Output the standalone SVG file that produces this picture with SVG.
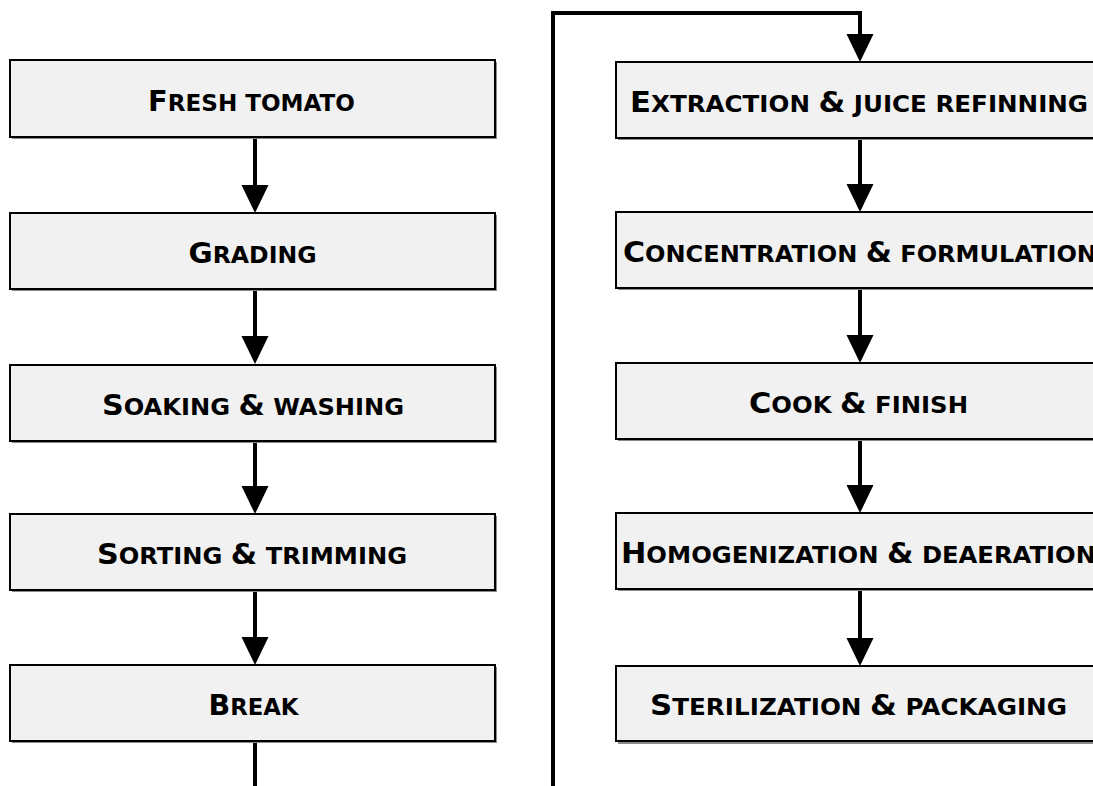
<svg xmlns="http://www.w3.org/2000/svg" width="1093" height="786" viewBox="0 0 1093 786">
<style>
.box{fill:#f1f1f1;stroke:#000;stroke-width:2}
.sh{fill:#8a8a8a}
.lbl{font-family:"DejaVu Sans",Verdana,sans-serif;font-weight:bold;font-size:28px;text-anchor:middle;fill:#000}
.s{font-size:22.4px}
.con{fill:none;stroke:#000;stroke-width:4}
</style>
<defs>
<marker id="ah" markerUnits="userSpaceOnUse" markerWidth="30" markerHeight="30" refX="18" refY="13.5" orient="auto" overflow="visible">
<path d="M0,0 L28,13.5 L0,27 z" fill="#000"/>
</marker>
</defs>
<rect width="1093" height="786" fill="#fff"/>
<g id="connectors">
<line class="con" x1="255" y1="137" x2="255" y2="203" marker-end="url(#ah)"/>
<line class="con" x1="255" y1="289" x2="255" y2="354" marker-end="url(#ah)"/>
<line class="con" x1="255" y1="441" x2="255" y2="504" marker-end="url(#ah)"/>
<line class="con" x1="255" y1="591" x2="255" y2="655" marker-end="url(#ah)"/>
<line class="con" x1="255" y1="742" x2="255" y2="786"/>
<path class="con" d="M553,786 V13 H860 V52" marker-end="url(#ah)"/>
<line class="con" x1="860" y1="138" x2="860" y2="202" marker-end="url(#ah)"/>
<line class="con" x1="860" y1="289" x2="860" y2="353" marker-end="url(#ah)"/>
<line class="con" x1="860" y1="440" x2="860" y2="503" marker-end="url(#ah)"/>
<line class="con" x1="860" y1="590" x2="860" y2="656" marker-end="url(#ah)"/>
</g>
<g id="fresh-tomato">
<rect class="sh" x="12" y="62" width="485" height="77"/>
<rect class="box" x="10" y="60" width="485" height="77"/>
<text class="lbl" x="251.5" y="111" textLength="207" lengthAdjust="spacingAndGlyphs">F<tspan class="s">RESH TOMATO</tspan></text>
</g>
<g id="grading">
<rect class="sh" x="12" y="215" width="485" height="76"/>
<rect class="box" x="10" y="213" width="485" height="76"/>
<text class="lbl" x="252.5" y="263" textLength="128" lengthAdjust="spacingAndGlyphs">G<tspan class="s">RADING</tspan></text>
</g>
<g id="soaking-washing">
<rect class="sh" x="12" y="367" width="485" height="76"/>
<rect class="box" x="10" y="365" width="485" height="76"/>
<text class="lbl" x="253" y="415" textLength="302" lengthAdjust="spacingAndGlyphs">S<tspan class="s">OAKING </tspan>&amp;<tspan class="s"> WASHING</tspan></text>
</g>
<g id="sorting-trimming">
<rect class="sh" x="12" y="516" width="485" height="76"/>
<rect class="box" x="10" y="514" width="485" height="76"/>
<text class="lbl" x="252" y="564" textLength="310" lengthAdjust="spacingAndGlyphs">S<tspan class="s">ORTING </tspan>&amp;<tspan class="s"> TRIMMING</tspan></text>
</g>
<g id="break">
<rect class="sh" x="12" y="667" width="485" height="76"/>
<rect class="box" x="10" y="665" width="485" height="76"/>
<text class="lbl" x="253.5" y="715" textLength="90" lengthAdjust="spacingAndGlyphs">B<tspan class="s">REAK</tspan></text>
</g>
<g id="extraction">
<rect class="sh" x="618" y="64" width="488" height="76"/>
<rect class="box" x="616" y="62" width="488" height="76"/>
<text class="lbl" x="859" y="112" textLength="458" lengthAdjust="spacingAndGlyphs">E<tspan class="s">XTRACTION </tspan>&amp;<tspan class="s"> JUICE REFINNING</tspan></text>
</g>
<g id="concentration">
<rect class="sh" x="618" y="214" width="488" height="76"/>
<rect class="box" x="616" y="212" width="488" height="76"/>
<text class="lbl" x="860" y="262" textLength="474" lengthAdjust="spacingAndGlyphs">C<tspan class="s">ONCENTRATION </tspan>&amp;<tspan class="s"> FORMULATION</tspan></text>
</g>
<g id="cook-finish">
<rect class="sh" x="618" y="365" width="488" height="76"/>
<rect class="box" x="616" y="363" width="488" height="76"/>
<text class="lbl" x="858.5" y="413" textLength="219" lengthAdjust="spacingAndGlyphs">C<tspan class="s">OOK </tspan>&amp;<tspan class="s"> FINISH</tspan></text>
</g>
<g id="homogenization">
<rect class="sh" x="618" y="515" width="488" height="76"/>
<rect class="box" x="616" y="513" width="488" height="76"/>
<text class="lbl" x="858.5" y="563" textLength="475" lengthAdjust="spacingAndGlyphs">H<tspan class="s">OMOGENIZATION </tspan>&amp;<tspan class="s"> DEAERATION</tspan></text>
</g>
<g id="sterilization">
<rect class="sh" x="618" y="668" width="488" height="76"/>
<rect class="box" x="616" y="666" width="488" height="75"/>
<text class="lbl" x="858.5" y="715" textLength="417" lengthAdjust="spacingAndGlyphs">S<tspan class="s">TERILIZATION </tspan>&amp;<tspan class="s"> PACKAGING</tspan></text>
</g>
</svg>
